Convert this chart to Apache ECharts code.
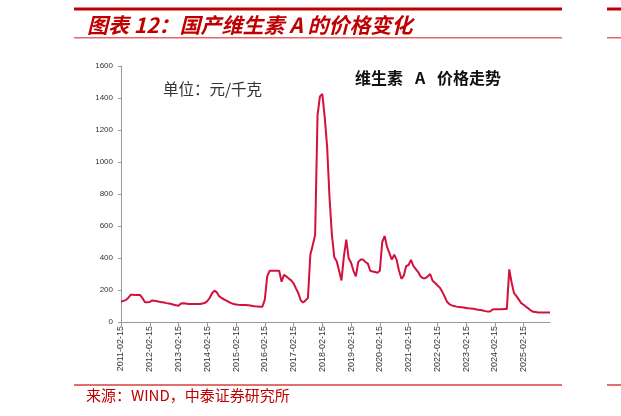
<!DOCTYPE html>
<html><head><meta charset="utf-8">
<script src="https://cdn.jsdelivr.net/npm/echarts@6/dist/echarts.min.js"></script>
<style>html,body{margin:0;padding:0;background:#fff;}#c{width:621px;height:416px;}</style>
</head><body><div id="c"></div>
<script>
// Monthly vitamin A price (元/千克)
const v2011 = [127,132,137,150,170,170,168,168,168,148,123];           // Feb–Dec
const v2012 = [123,125,135,133,130,126,124,122,118,116,112,108];
const v2013 = [105,102,115,117,115,113,113,113,113,113,113,115];
const v2014 = [120,130,150,180,196,185,160,150,142,133,125,118];
const v2015 = [112,110,108,107,106,106,105,103,100,98,97,96];
const v2016 = [96,140,285,320,320,320,320,320,252,295,285,272];
const v2017 = [260,242,210,180,135,122,135,150,420,480,544,1290];
const v2018 = [1410,1425,1280,1096,780,544,405,380,320,260,410,515];
const v2019 = [398,370,320,285,375,390,390,375,365,320,315,312];
const v2020 = [308,320,500,537,470,430,390,420,390,320,270,290];
const v2021 = [350,356,388,350,330,312,285,273,273,285,300,258];
const v2022 = [245,230,215,190,160,127,112,104,100,96,93,92];
const v2023 = [90,88,86,85,83,80,77,75,72,68,65,66];
const v2024 = [78,79,80,80,80,81,82,329,245,180,162,140];
const v2025 = [118,108,95,85,72,64,62,60,60,60,60,60];
const v2026 = [60];                                                      // Jan
const yearBlocks = [[2011,2,v2011],[2012,1,v2012],[2013,1,v2013],[2014,1,v2014],[2015,1,v2015],
  [2016,1,v2016],[2017,1,v2017],[2018,1,v2018],[2019,1,v2019],[2020,1,v2020],[2021,1,v2021],
  [2022,1,v2022],[2023,1,v2023],[2024,1,v2024],[2025,1,v2025],[2026,1,v2026]];
const yTicks = [0,200,400,600,800,1000,1200,1400,1600];

const categories = [], prices = [];
yearBlocks.forEach(([y, m0, arr]) => {
  arr.forEach((v, i) => {
    const m = m0 + i;
    categories.push(y + '-' + String(m).padStart(2,'0') + '-15');
    prices.push(v);
  });
});

const chart = echarts.init(document.getElementById('c'), null, {renderer:'canvas'});
const RED = '#c00000';
chart.setOption({
  animation: false,
  backgroundColor: '#fff',
  grid: {left: 121, right: 71, top: 66, bottom: 94, containLabel: false},
  xAxis: {
    type: 'category', data: categories, boundaryGap: false,
    axisLine: {lineStyle: {color: '#999', width: 1}},
    axisTick: {show: true, interval: 11, length: 4, lineStyle: {color: '#999'}},
    axisLabel: {interval: 11, rotate: 90, margin: 4, fontSize: 9, color: '#333',
      fontFamily: '"Liberation Sans", Arial, sans-serif'},
    splitLine: {show: false}
  },
  yAxis: {
    type: 'value', min: yTicks[0], max: yTicks[yTicks.length-1], interval: 200,
    axisLine: {show: true, lineStyle: {color: '#999', width: 1}},
    axisTick: {show: true, length: 3, lineStyle: {color: '#999'}},
    axisLabel: {fontSize: 8, color: '#333', margin: 8, formatter: v => String(v),
      fontFamily: '"Liberation Sans", Arial, sans-serif'},
    splitLine: {show: false}
  },
  series: [{
    type: 'line', data: prices, symbol: 'none', smooth: false,
    lineStyle: {color: '#d4103c', width: 2}
  }],
  graphic: [
    {type:'rect', shape:{x:74, y:7.5, width:488, height:3}, style:{fill:RED}},
    {type:'rect', shape:{x:607, y:7.5, width:14, height:3}, style:{fill:RED}},
    {type:'rect', shape:{x:74, y:37, width:488, height:1.5}, style:{fill:'#e06a6a'}},
    {type:'rect', shape:{x:607, y:37, width:14, height:1.5}, style:{fill:'#e06a6a'}},
    {type:'rect', shape:{x:74, y:384, width:488, height:2}, style:{fill:'#e07070'}},
    {type:'rect', shape:{x:607, y:384, width:14, height:2}, style:{fill:'#e07070'}},
    {type:'text', x:87, y:25, style:{text:'图表 12：国产维生素 A 的价格变化', fill:RED,
      font:'italic bold 21px "Noto Sans CJK SC"', verticalAlign:'middle'}},
    {type:'text', x:86, y:395, style:{text:'来源：WIND，中泰证券研究所', fill:RED,
      font:'15px "Noto Sans CJK SC"', verticalAlign:'middle'}},
    {type:'text', x:163, y:89, style:{text:'单位：元/千克', fill:'#333',
      font:'15.5px "Noto Sans CJK SC"', verticalAlign:'middle'}},
    {type:'text', x:355, y:78, style:{text:'维生素', fill:'#111',
      font:'bold 16px "Noto Sans CJK SC"', verticalAlign:'middle'}},
    {type:'text', x:415, y:78, style:{text:'A', fill:'#111',
      font:'bold 16px "Noto Sans CJK SC"', verticalAlign:'middle'}},
    {type:'text', x:437, y:78, style:{text:'价格走势', fill:'#111',
      font:'bold 16px "Noto Sans CJK SC"', verticalAlign:'middle'}}
  ]
});
</script></body></html>
